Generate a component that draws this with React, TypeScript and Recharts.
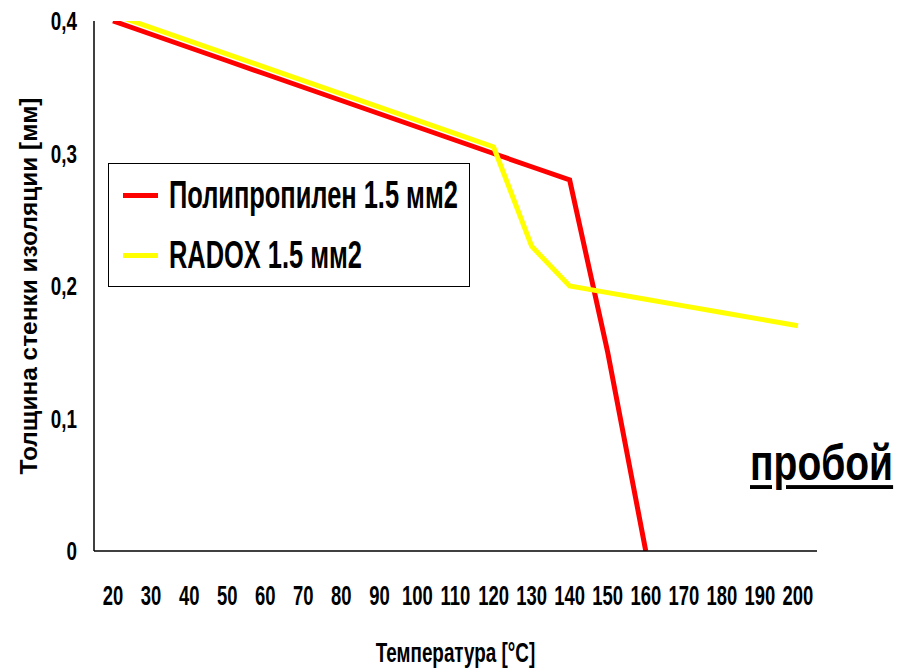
import React from "react";
import { Label, Legend, Line, LineChart, XAxis, YAxis } from "recharts";

const temps = [20, 30, 40, 50, 60, 70, 80, 90, 100, 110, 120, 130, 140, 150, 160, 170, 180, 190, 200];
const polypropylene = [0.4, 0.39, 0.38, 0.37, 0.36, 0.35, 0.34, 0.33, 0.32, 0.31, 0.3, 0.29, 0.28, 0.15, 0];
const radox = [0.405, 0.395, 0.385, 0.375, 0.365, 0.355, 0.345, 0.335, 0.325, 0.315, 0.305, 0.23, 0.2, 0.195, 0.19, 0.185, 0.18, 0.175, 0.17];
const yTicks = [0, 0.1, 0.2, 0.3, 0.4];
const seriesNames = ["Полипропилен 1.5 мм2", "RADOX 1.5 мм2"];

const data = temps.map((t, i) => ({ t, pp: polypropylene[i], radox: radox[i] }));

const FONT = '"Liberation Sans", Arial, sans-serif';

const XTick = ({ x, y, payload }: any) => (
  <text
    x={0}
    y={0}
    transform={`translate(${x},${y + 54}) scale(0.82,1.22)`}
    textAnchor="middle"
    fontSize={22.5}
    fontWeight="bold"
    fontFamily={FONT}
    fill="#000"
  >
    {payload.value}
  </text>
);

const YTick = ({ y, payload }: any) => (
  <text
    x={0}
    y={0}
    transform={`translate(77,${y + 9}) scale(0.82,1.1)`}
    textAnchor="end"
    fontSize={23}
    fontWeight="bold"
    fontFamily={FONT}
    fill="#000"
  >
    {String(payload.value).replace(".", ",")}
  </text>
);

const XTitle = ({ viewBox }: any) => (
  <text
    x={0}
    y={0}
    transform={`translate(${viewBox.x + viewBox.width / 2},662) scale(0.82,1.18)`}
    textAnchor="middle"
    fontSize={23}
    fontWeight="bold"
    fontFamily={FONT}
    fill="#000"
  >
    Температура [°C]
  </text>
);

const YTitle = ({ viewBox }: any) => (
  <text
    x={0}
    y={0}
    transform={`translate(37,${viewBox.y + viewBox.height / 2}) rotate(-90) scale(1.04,1)`}
    textAnchor="middle"
    fontSize={23.5}
    fontWeight="bold"
    fontFamily={FONT}
    fill="#000"
  >
    Толщина стенки изоляции [мм]
  </text>
);

const LegendBox = ({ payload }: any) => {
  const items = [...(payload || [])].sort((a: any, b: any) => seriesNames.indexOf(a.value) - seriesNames.indexOf(b.value));
  return (
    <div
      style={{
        position: "relative",
        width: 362,
        height: 124,
        border: "1.5px solid #000",
        background: "#fff",
        boxSizing: "border-box",
        fontFamily: FONT,
        fontWeight: "bold",
        fontSize: 31,
        color: "#000",
      }}
    >
      {items.map((p: any, i: number) => (
        <div key={i} style={{ position: "absolute", left: 14, top: 11 + i * 60, height: 40, display: "flex", alignItems: "center" }}>
          <span style={{ display: "inline-block", width: 35, height: 5, background: p.color, marginRight: 11 }} />
          <span
            style={{
              display: "inline-block",
              transform: "scale(0.82,1.25)",
              transformOrigin: "left center",
              lineHeight: "40px",
              whiteSpace: "nowrap",
            }}
          >
            {p.value}
          </span>
        </div>
      ))}
    </div>
  );
};

export default function App() {
  return (
    <div style={{ position: "absolute", left: 0, top: 0, width: 907, height: 668, background: "#fff" }}>
      <LineChart width={907} height={668} data={data} margin={{ top: 21, right: 90, bottom: 0, left: 0 }}>
        <XAxis
          dataKey="t"
          type="number"
          domain={[15, 205]}
          ticks={temps}
          interval={0}
          height={117}
          tick={<XTick />}
          tickLine={false}
          tickSize={0}
          tickMargin={0}
          axisLine={{ stroke: "#000", strokeWidth: 1.5 }}
        >
          <Label content={<XTitle />} position="bottom" />
        </XAxis>
        <XAxis xAxisId="top" dataKey="t" type="number" domain={[15, 205]} orientation="top" height={0} tick={false} tickLine={false} axisLine={{ stroke: "#000", strokeWidth: 1.5 }} />
        <YAxis
          type="number"
          domain={[0, 0.4]}
          ticks={yTicks}
          allowDataOverflow
          width={94}
          tick={<YTick />}
          tickLine={false}
          axisLine={{ stroke: "#000", strokeWidth: 1.5 }}
        >
          <Label content={<YTitle />} position="left" />
        </YAxis>
        <YAxis yAxisId="right" orientation="right" domain={[0, 0.4]} width={0} tick={false} tickLine={false} axisLine={{ stroke: "#000", strokeWidth: 1.5 }} />
        <Legend
          layout="horizontal"
          verticalAlign="middle"
          align="center"
          content={<LegendBox />}
          wrapperStyle={{ left: 108, top: 163, width: 362, height: 124 }}
        />
        <Line name={seriesNames[0]} dataKey="pp" stroke="#ff0000" strokeWidth={5} dot={false} isAnimationActive={false} />
        <Line name={seriesNames[1]} dataKey="radox" stroke="#ffff00" strokeWidth={5} dot={false} isAnimationActive={false} />
      </LineChart>
      <div
        style={{
          position: "absolute",
          left: 750,
          top: 437,
          fontFamily: FONT,
          fontWeight: "bold",
          fontSize: 39,
          textDecoration: "underline",
          textUnderlineOffset: 4,
          transform: "scale(1,1.3)",
          transformOrigin: "left top",
          lineHeight: "39px",
          color: "#000",
        }}
      >
        пробой
      </div>
    </div>
  );
}
